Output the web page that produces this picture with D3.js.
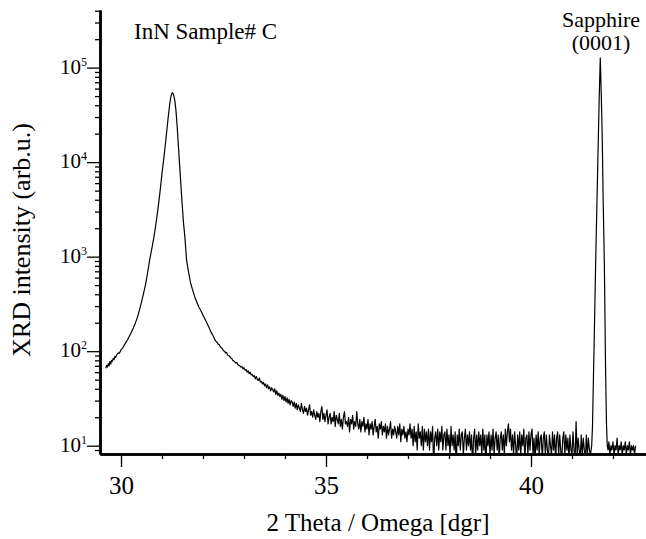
<!DOCTYPE html>
<html>
<head>
<meta charset="utf-8">
<script src="https://cdn.jsdelivr.net/npm/d3@7"></script>
<style>
  body { margin: 0; background: #fff; }
  svg { display: block; }
  text { font-family: "Liberation Serif", "DejaVu Serif", serif; fill: #000; }
</style>
</head>
<body>
<svg id="chart" width="646" height="539"></svg>
<script>
// InN peak: [2theta, counts]
const innPeak = [
  [29.63,66],[29.65,71],[29.67,68],[29.69,74],[29.71,70],[29.73,78],[29.75,73],[29.77,80],
  [29.79,78],[29.81,84],[29.83,81],[29.85,88],[29.87,86],[29.90,92],[29.93,96],[29.96,95],
  [30.00,103],[30.04,108],[30.08,116],[30.12,124],[30.16,132],[30.20,143],[30.25,158],[30.30,176],
  [30.35,198],[30.40,228],[30.45,272],[30.50,330],[30.55,410],[30.60,510],[30.65,680],[30.70,930],
  [30.75,1200],[30.80,1580],[30.85,2190],[30.90,3160],[30.95,4790],[31.00,7590],[31.05,11500],
  [31.10,18200],[31.15,29500],[31.19,41700],[31.22,50100],[31.25,54300],[31.28,52500],[31.31,45700],
  [31.34,35500],[31.37,24000],[31.40,14800],[31.44,7940],[31.48,4270],[31.52,2400],[31.56,1580],
  [31.60,912],[31.65,680],[31.70,520],[31.75,440],[31.80,375],[31.85,330],[31.90,292],[31.95,268],
  [32.00,240],[32.05,218],[32.10,196],[32.15,177],[32.20,158],[32.25,145]
]

// noisy background between the two peaks
const tail = [
  [32.300,130],[32.325,126],[32.350,123],[32.375,118],[32.400,117],[32.425,111],[32.450,109],[32.475,105],
  [32.500,101],[32.525,100],[32.550,96],[32.575,97],[32.600,91],[32.625,90],[32.650,88],[32.675,85],
  [32.700,84],[32.725,80],[32.750,79],[32.775,77],[32.800,75],[32.825,76],[32.850,72],[32.875,71],
  [32.900,70],[32.925,68],[32.950,69],[32.975,65],[33.000,67],[33.025,63],[33.050,64],[33.075,60],
  [33.100,62],[33.125,58],[33.150,60],[33.175,56],[33.200,57],[33.225,54],[33.250,55],[33.275,51],
  [33.300,54],[33.325,50],[33.350,49],[33.375,52],[33.400,47],[33.425,48],[33.450,45],[33.475,47],
  [33.500,43],[33.525,45],[33.550,41],[33.575,44],[33.600,40],[33.625,42],[33.650,38],[33.675,41],
  [33.700,39],[33.725,37],[33.750,40],[33.775,35],[33.800,38],[33.825,34],[33.850,36],[33.875,33],
  [33.900,35],[33.925,31],[33.950,34],[33.975,30],[34.000,33],[34.025,29],[34.050,32],[34.075,28],
  [34.100,31],[34.125,27],[34.150,30],[34.175,29],[34.200,26],[34.225,29],[34.250,25],[34.275,28],
  [34.300,24],[34.325,27],[34.350,25],[34.375,23],[34.400,28],[34.425,24],[34.450,22],[34.475,26],
  [34.500,23],[34.525,25],[34.550,21],[34.575,24],[34.600,27],[34.625,21],[34.650,23],[34.675,20],
  [34.700,24],[34.725,21],[34.750,19],[34.775,23],[34.800,20],[34.825,22],[34.850,18],[34.875,23],
  [34.900,26],[34.925,19],[34.950,22],[34.975,18],[35.000,21],[35.025,24],[35.050,17],[35.075,20],
  [35.100,22],[35.125,17],[35.150,20],[35.175,18],[35.200,23],[35.225,16],[35.250,21],[35.275,19],
  [35.300,17],[35.325,22],[35.350,16],[35.375,19],[35.400,15],[35.425,20],[35.450,23],[35.475,17],
  [35.500,18],[35.525,16],[35.550,20],[35.575,14],[35.600,19],[35.625,17],[35.650,21],[35.675,15],
  [35.700,18],[35.725,16],[35.750,23],[35.775,17],[35.800,15],[35.825,19],[35.850,14],[35.875,18],
  [35.900,16],[35.925,20],[35.950,14],[35.975,17],[36.000,15],[36.025,19],[36.050,13],[36.075,17],
  [36.100,15],[36.125,18],[36.150,13],[36.175,16],[36.200,19],[36.225,14],[36.250,16],[36.275,12],
  [36.300,17],[36.325,15],[36.350,18],[36.375,13],[36.400,16],[36.425,14],[36.450,17],[36.475,12],
  [36.500,16],[36.525,13],[36.550,15],[36.575,18],[36.600,12],[36.625,15],[36.650,13],[36.675,16],
  [36.700,14],[36.725,12],[36.750,16],[36.775,13],[36.800,17],[36.825,11],[36.850,15],[36.875,13],
  [36.900,16],[36.925,12],[36.950,14],[36.975,11],[37.000,15],[37.025,13],[37.050,17],[37.075,12],
  [37.100,15],[37.125,10],[37.150,16],[37.175,11],[37.200,14],[37.225,9],[37.250,17],[37.275,12],
  [37.300,14],[37.325,10],[37.350,16],[37.375,9],[37.400,15],[37.425,11],[37.450,14],[37.475,10],
  [37.500,15],[37.525,9],[37.550,14],[37.575,11],[37.600,16],[37.625,6],[37.650,12],[37.675,14],
  [37.700,10],[37.725,15],[37.750,9],[37.775,14],[37.800,11],[37.825,16],[37.850,9],[37.875,13],
  [37.900,14],[37.925,9],[37.950,15],[37.975,10],[38.000,13],[38.025,8],[38.050,16],[38.075,10],
  [38.100,13],[38.125,9],[38.150,14],[38.175,6],[38.200,13],[38.225,10],[38.250,15],[38.275,9],
  [38.300,13],[38.325,14],[38.350,8],[38.375,12],[38.400,15],[38.425,9],[38.450,13],[38.475,10],
  [38.500,14],[38.525,9],[38.550,13],[38.575,6],[38.600,12],[38.625,15],[38.650,8],[38.675,13],
  [38.700,9],[38.725,14],[38.750,10],[38.775,13],[38.800,8],[38.825,15],[38.850,9],[38.875,13],
  [38.900,6],[38.925,13],[38.950,10],[38.975,14],[39.000,8],[39.025,13],[39.050,9],[39.075,15],
  [39.100,8],[39.125,12],[39.150,14],[39.175,9],[39.200,13],[39.225,7],[39.250,12],[39.275,14],
  [39.300,9],[39.325,13],[39.350,8],[39.375,15],[39.400,10],[39.425,14],[39.450,17],[39.475,11],
  [39.500,15],[39.525,9],[39.550,13],[39.575,8],[39.600,14],[39.625,10],[39.650,7],[39.675,13],
  [39.700,9],[39.725,14],[39.750,8],[39.775,13],[39.800,10],[39.825,15],[39.850,7],[39.875,12],
  [39.900,13],[39.925,8],[39.950,14],[39.975,9],[40.000,13],[40.025,15],[40.050,8],[40.075,12],
  [40.100,7],[40.125,13],[40.150,9],[40.175,14],[40.200,8],[40.225,12],[40.250,13],[40.275,7],
  [40.300,12],[40.325,14],[40.350,8],[40.375,13],[40.400,9],[40.425,7],[40.450,13],[40.475,10],
  [40.500,8],[40.525,14],[40.550,9],[40.575,13],[40.600,7],[40.625,12],[40.650,14],[40.675,8],
  [40.700,13],[40.725,9],[40.750,7],[40.775,12],[40.800,14],[40.825,8],[40.850,13],[40.875,9],
  [40.900,12],[40.925,7],[40.950,13],[40.975,9],[41.000,8],[41.025,14],[41.050,9],[41.075,7],
  [41.100,18],[41.125,8],[41.150,12],[41.175,9],[41.200,7],[41.225,13],[41.250,8],[41.275,12],
  [41.300,9],[41.325,7],[41.350,13],[41.375,8],[41.400,12],[41.425,9],[41.450,8]
]

// sapphire substrate peak and the flat end of the scan
const sapphirePeak = [
  [41.48,10],[41.50,16],[41.52,45],[41.55,200],[41.58,1000],[41.61,4000],[41.64,16000],
  [41.665,50000],[41.69,127000],[41.715,50000],[41.74,16000],[41.76,4000],[41.79,800],
  [41.82,60],[41.84,18],[41.86,10],[41.88,9]
]
const scanEnd = [
  [41.900,11],[41.925,8],[41.950,10],[41.975,9],[42.000,11],[42.025,8],[42.050,10],[42.075,9],
  [42.100,12],[42.125,8],[42.150,10],[42.175,9],[42.200,11],[42.225,8],[42.250,10],[42.275,9],
  [42.300,11],[42.325,8],[42.350,10],[42.375,9],[42.400,11],[42.425,8],[42.450,10],[42.475,9],
  [42.500,10],[42.525,8],[42.550,10]
]

const xMajor = [30, 35, 40]
const xMinor = [31, 32, 33, 34, 36, 37, 38, 39, 41, 42]
const yExp = [1, 2, 3, 4, 5]
const xTitle = "2 Theta / Omega [dgr]"
const yTitle = "XRD intensity (arb.u.)"

const scan = innPeak.concat(tail, sapphirePeak, scanEnd)

const svg = d3.select("#chart")
const plotL = 100, plotR = 646, plotT = 10, plotB = 454
const serif = "Liberation Serif"

const x = d3.scaleLinear().domain([29.488, 42.805]).range([plotL, plotR])
const y = d3.scaleLog().domain([8.17, 407000]).range([plotB, plotT])

// minor y ticks 2..9 in every decade inside the domain
const yMinor = []
for (let e = 0; e <= 5; e++)
  for (let m = 2; m <= 9; m++) {
    const v = m * Math.pow(10, e)
    if (v >= y.domain()[0] && v <= y.domain()[1]) yMinor.push(v)
  }

svg.append("clipPath").attr("id", "plot")
  .append("rect").attr("x", plotL).attr("y", plotT).attr("width", plotR - plotL).attr("height", plotB - plotT)

svg.append("path")
  .datum(scan)
  .attr("clip-path", "url(#plot)")
  .attr("fill", "none")
  .attr("stroke", "#000")
  .attr("stroke-width", 1.2)
  .attr("stroke-linejoin", "round")
  .attr("d", d3.line().x(d => x(d[0])).y(d => y(d[1])))

// y axis
const gy = svg.append("g").attr("transform", `translate(${plotL},0)`)
gy.call(d3.axisLeft(y).tickValues(yMinor).tickSize(5).tickSizeOuter(0).tickFormat(""))
gy.append("g").call(d3.axisLeft(y).tickValues(yExp.map(e => Math.pow(10, e))).tickSize(13).tickSizeOuter(0).tickFormat(""))
gy.selectAll(".tick line").attr("stroke-width", 1.3)
gy.selectAll(".domain").attr("stroke-width", 2.5)

const ylab = gy.selectAll(".ylab").data(yExp).join("text")
  .attr("class", "ylab")
  .attr("x", -13)
  .attr("y", e => y(Math.pow(10, e)) + 6)
  .attr("text-anchor", "end")
  .attr("font-family", serif)
  .attr("font-size", 21)
ylab.append("tspan").text("10")
ylab.append("tspan").attr("font-size", 12).attr("dy", -8).text(e => e)

// x axis
const gx = svg.append("g").attr("transform", `translate(0,${plotB})`)
gx.call(d3.axisBottom(x).tickValues(xMinor).tickSize(5).tickSizeOuter(0).tickFormat(""))
gx.append("g").call(d3.axisBottom(x).tickValues(xMajor).tickSize(13).tickSizeOuter(0).tickPadding(9))
gx.selectAll(".tick line").attr("stroke-width", 1.3)
gx.selectAll(".domain").attr("stroke-width", 2.5)
gx.selectAll(".tick text").attr("font-size", 25).attr("font-family", serif)

// titles and notes
svg.append("text").attr("x", 378).attr("y", 531).attr("text-anchor", "middle")
  .attr("font-family", serif).attr("font-size", 25).text(xTitle)
svg.append("text").attr("transform", "translate(30,240) rotate(-90)").attr("text-anchor", "middle")
  .attr("font-family", serif).attr("font-size", 26).text(yTitle)
svg.append("text").attr("x", 134).attr("y", 39).attr("font-family", serif).attr("font-size", 23).text("InN Sample# C")
svg.append("text").attr("x", 601).attr("y", 27).attr("text-anchor", "middle")
  .attr("font-family", serif).attr("font-size", 22).text("Sapphire")
svg.append("text").attr("x", 601).attr("y", 50).attr("text-anchor", "middle")
  .attr("font-family", serif).attr("font-size", 22).text("(0001)")
</script>
</body>
</html>
